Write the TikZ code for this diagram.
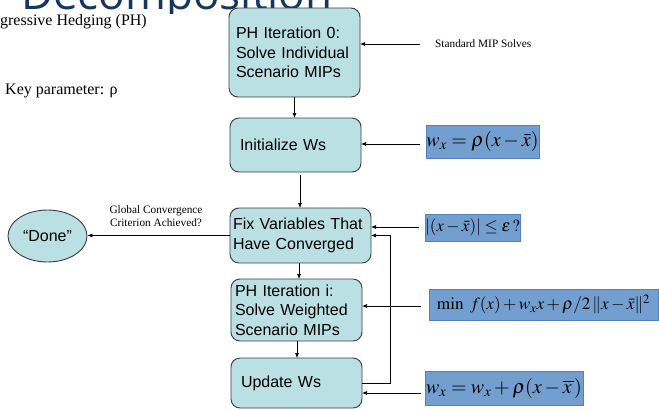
\documentclass[tikz,border=0pt]{standalone}
\usepackage{mathptmx}
\usepackage{fontspec}
\setmainfont{Liberation Serif}
\setsansfont{Liberation Sans}
\newfontfamily\titlefont{Open Sans}
\usetikzlibrary{arrows.meta,shapes.geometric}
\definecolor{boxfill}{RGB}{186,224,227}
\definecolor{boxdraw}{RGB}{60,60,60}
\definecolor{frmfill}{RGB}{114,159,207}
\definecolor{frmdraw}{RGB}{80,128,190}
\definecolor{titleblue}{RGB}{23,54,93}
\begin{document}
\begin{tikzpicture}[x=1pt,y=-1pt,
  stepbox/.style={draw=boxdraw, fill=boxfill, rounded corners=9pt, line width=0.9pt,
    font=\sffamily\fontsize{16}{19.5}\selectfont, align=left, inner ysep=0pt, outer sep=0pt},
  frm/.style={draw=frmdraw, fill=frmfill, line width=0.8pt, inner sep=0pt, outer sep=0pt},
  arr/.style={-{Latex[length=5pt,width=4pt]}, line width=0.7pt},
  smalltext/.style={font=\fontsize{11.3}{13}\selectfont, align=center, inner sep=0pt},
  bigtext/.style={font=\fontsize{16}{19}\selectfont, inner sep=0pt}]
\useasboundingbox (0,0) rectangle (659,410);
\clip (0,0) rectangle (659,410);

% title (partly cut off)
\begin{scope}
  \clip (0,0) rectangle (659,13);
  \node[anchor=base west, font=\titlefont\fontsize{44}{44}\selectfont, text=titleblue, inner sep=0pt] (title) at (21,9) {Decomposition};
\end{scope}

\node[bigtext, anchor=base east] (ph) at (147,25) {Progressive Hedging (PH)};
\node[bigtext, anchor=base west] (kp) at (5,94) {Key parameter: ρ};

% flow boxes
\node[stepbox, minimum width=131pt, minimum height=89pt, text width=117pt, inner xsep=7pt] (b1) at (294.5,52.5) {PH Iteration 0:\\Solve Individual\\Scenario MIPs};
\node[stepbox, minimum width=131pt, minimum height=54pt, text width=111pt, inner xsep=10pt] (b2) at (295.5,145) {Initialize Ws};
\node[stepbox, minimum width=141pt, minimum height=55pt, text width=135pt, inner xsep=3pt] (b3) at (300.5,235.5) {Fix Variables That\\Have Converged};
\node[stepbox, minimum width=131pt, minimum height=62pt, text width=123pt, inner xsep=4pt] (b4) at (296.5,310) {PH Iteration i:\\Solve Weighted\\Scenario MIPs};
\node[stepbox, minimum width=131pt, minimum height=50pt, text width=111pt, inner xsep=10pt] (b5) at (296.5,383) {\raisebox{-4pt}{Update Ws}};

\node[ellipse, draw=boxdraw, fill=boxfill, line width=0.9pt, minimum width=79pt, minimum height=52pt, inner sep=0pt, font=\sffamily\fontsize{16}{19}\selectfont] (done) at (47.5,236) {“Done”};

% formulas
\node[frm, minimum width=113pt, minimum height=33pt] (f1) at (482.5,141.5) {\fontsize{20}{20}\selectfont $w_x=\rho(x-\bar{x})$};
\node[frm, minimum width=95pt, minimum height=27pt] (f2) at (472.5,227.5) {\fontsize{17}{17}\selectfont $|(x-\bar{x})|\le\varepsilon\,?$};
\node[frm, minimum width=229pt, minimum height=31pt] (f3) at (543.5,304.5) {\fontsize{17.2}{17}\selectfont $\min\ f(x)+w_x x+\rho/2\,\|x-\bar{x}\|^2$};
\node[frm, minimum width=158pt, minimum height=34pt] (f4) at (504,388) {\fontsize{20}{20}\selectfont $w_x=w_x+\rho(x-\overline{x\mkern2mu})$};

% labels
\node[smalltext, anchor=west] (smiptext) at (435,44) {Standard MIP Solves};
\node[smalltext] (gcc) at (156,216.5) {Global Convergence\\Criterion Achieved?};

% connectors
\draw[arr] (b1.south) -- (b1.south |- b2.north);
\coordinate (c23) at (300,175);
\draw[arr] (c23) -- (c23 |- b3.north);
\coordinate (c34) at (299,263);
\draw[arr] (c34) -- (c34 |- b4.north);
\coordinate (c45) at (297,341);
\draw[arr] (c45) -- (c45 |- b5.north);

\coordinate (a0) at (420,44);
\draw[arr] (a0) -- (a0 -| b1.east);
\coordinate (a1) at (420,144);
\draw[arr] (a1) -- (a1 -| b2.east);
\coordinate (a2) at (419,227);
\draw[arr] (a2) -- (a2 -| b3.east);
\coordinate (a3) at (421,306);
\draw[arr] (a3) -- (a3 -| b4.east);
\coordinate (a4) at (421,393);
\draw[arr] (a4) -- (a4 -| b5.east);

\coordinate (fb) at (390,0);
\draw[arr] (b5.east) -| (fb |- b3.east) -- (b3.east);

\draw[arr] (b3.west) -- (b3.west -| done.east);
\end{tikzpicture}
\end{document}
